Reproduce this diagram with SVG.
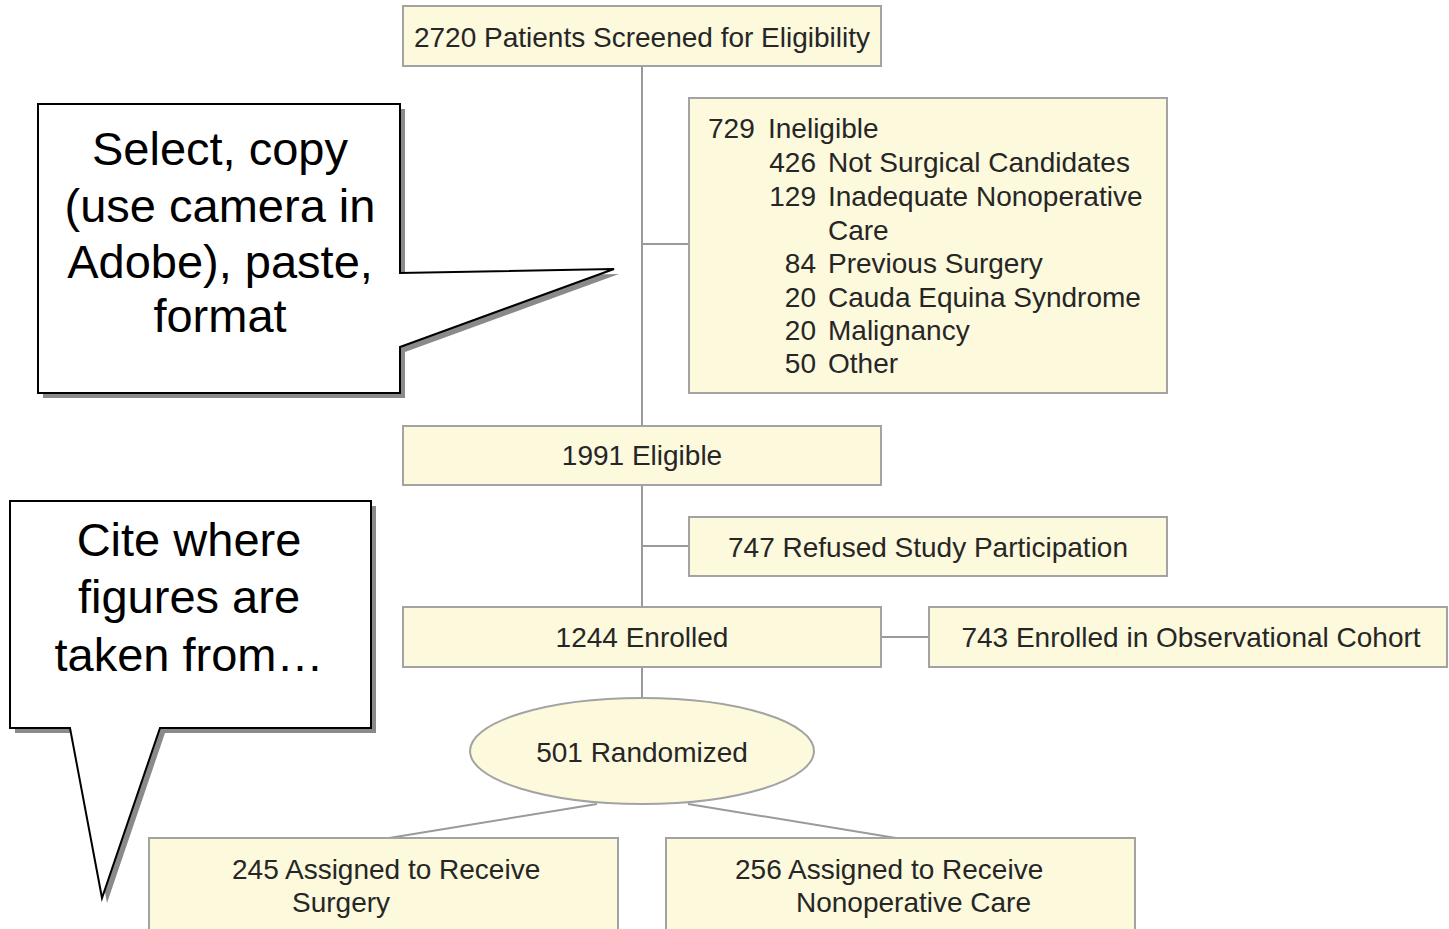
<svg xmlns="http://www.w3.org/2000/svg" width="1449" height="929" viewBox="0 0 1449 929">
<style>
.box{fill:#fcf9dc;stroke:#a3a3a3;stroke-width:2}
.t{font-family:"Liberation Sans",Arial,sans-serif;font-size:28px;fill:#262626}
.c{text-anchor:middle}
.e{text-anchor:end}
.ln{stroke:#9a9a9a;stroke-width:2;fill:none}
.call{fill:#fff;stroke:#000;stroke-width:2}
.shadow{fill:#8a8a8a;stroke:none}
.ct{font-family:"Liberation Sans",Arial,sans-serif;font-size:47px;fill:#000;text-anchor:middle}
</style>
<rect width="1449" height="929" fill="#fff"/>
<g id="connectors">
<line class="ln" x1="642" y1="66" x2="642" y2="426"/>
<line class="ln" x1="642" y1="244" x2="689" y2="244"/>
<line class="ln" x1="642" y1="485" x2="642" y2="607"/>
<line class="ln" x1="642" y1="546" x2="689" y2="546"/>
<line class="ln" x1="881" y1="637" x2="929" y2="637"/>
<line class="ln" x1="642" y1="667" x2="642" y2="698"/>
<line class="ln" x1="597" y1="804" x2="389" y2="838"/>
<line class="ln" x1="688" y1="804" x2="896" y2="838"/>
</g>
<g id="screened">
<rect class="box" x="403" y="6" width="478" height="60"/>
<text class="t c" x="642" y="47">2720 Patients Screened for Eligibility</text>
</g>
<g id="ineligible">
<rect class="box" x="689" y="98" width="478" height="295"/>
<text class="t" x="708" y="138">729</text>
<text class="t" x="768" y="138">Ineligible</text>
<text class="t e" x="816" y="172">426</text>
<text class="t" x="828" y="172">Not Surgical Candidates</text>
<text class="t e" x="816" y="206">129</text>
<text class="t" x="828" y="206">Inadequate Nonoperative</text>
<text class="t" x="828" y="240">Care</text>
<text class="t e" x="816" y="273">84</text>
<text class="t" x="828" y="273">Previous Surgery</text>
<text class="t e" x="816" y="307">20</text>
<text class="t" x="828" y="307">Cauda Equina Syndrome</text>
<text class="t e" x="816" y="340">20</text>
<text class="t" x="828" y="340">Malignancy</text>
<text class="t e" x="816" y="373">50</text>
<text class="t" x="828" y="373">Other</text>
</g>
<g id="eligible">
<rect class="box" x="403" y="426" width="478" height="59"/>
<text class="t c" x="642" y="465">1991 Eligible</text>
</g>
<g id="refused">
<rect class="box" x="689" y="517" width="478" height="59"/>
<text class="t c" x="928" y="557">747 Refused Study Participation</text>
</g>
<g id="enrolled">
<rect class="box" x="403" y="607" width="478" height="60"/>
<text class="t c" x="642" y="647">1244 Enrolled</text>
</g>
<g id="observational">
<rect class="box" x="929" y="607" width="518" height="60"/>
<text class="t c" x="1191" y="647">743 Enrolled in Observational Cohort</text>
</g>
<g id="randomized">
<ellipse class="box" cx="642" cy="751" rx="172" ry="53"/>
<text class="t c" x="642" y="762">501 Randomized</text>
</g>
<g id="surgery">
<rect class="box" x="149" y="838" width="469" height="100"/>
<text class="t" x="232" y="879">245 Assigned to Receive</text>
<text class="t" x="292" y="912">Surgery</text>
</g>
<g id="nonoperative">
<rect class="box" x="666" y="838" width="469" height="100"/>
<text class="t" x="735" y="879">256 Assigned to Receive</text>
<text class="t" x="796" y="912">Nonoperative Care</text>
</g>
<g id="callout1">
<path class="shadow" transform="translate(5,5)" d="M38,104 H400 V273 L614,269 L400,347 V393 H38 Z"/>
<path class="call" d="M38,104 H400 V273 L614,269 L400,347 V393 H38 Z"/>
<text class="ct" x="220" y="165">Select, copy</text>
<text class="ct" x="220" y="222">(use camera in</text>
<text class="ct" x="220" y="278">Adobe), paste,</text>
<text class="ct" x="220" y="332">format</text>
</g>
<g id="callout2">
<path class="shadow" transform="translate(5,5)" d="M10,501 H371 V728 H160 L102,898 L70,728 H10 Z"/>
<path class="call" d="M10,501 H371 V728 H160 L102,898 L70,728 H10 Z"/>
<text class="ct" x="189" y="556">Cite where</text>
<text class="ct" x="189" y="613">figures are</text>
<text class="ct" x="189" y="671">taken from…</text>
</g>
</svg>
